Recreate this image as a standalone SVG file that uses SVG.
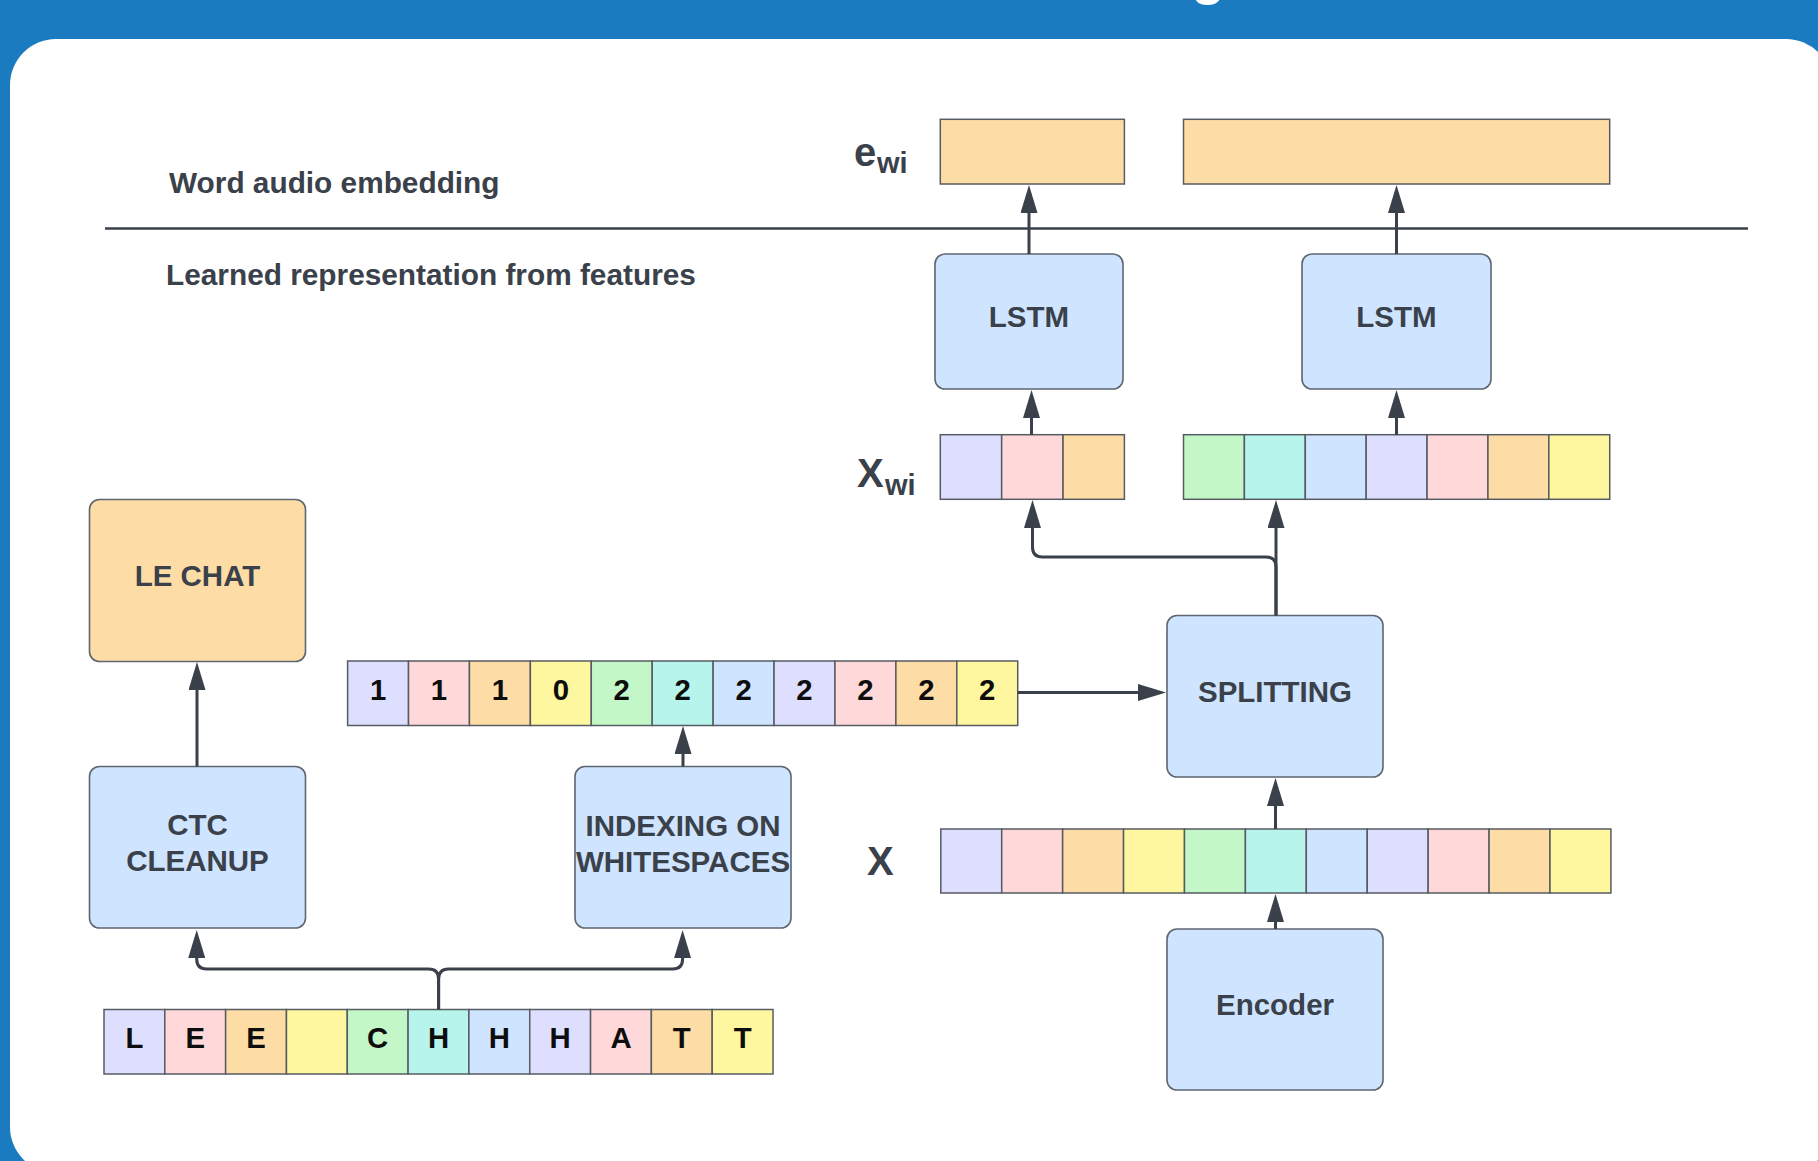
<svg xmlns="http://www.w3.org/2000/svg" width="1818" height="1161" viewBox="0 0 1818 1161">
<style>
text{font-family:"Liberation Sans",Arial,sans-serif;font-weight:bold}
.lbl{fill:#3a414a;font-size:29.8px}
.nt{fill:#3a414a;font-size:29.5px;text-anchor:middle}
.ct{fill:#0d0d0d;font-size:29.33px;text-anchor:middle}
.box{stroke:#5e6670;stroke-width:1.6}
.cell{stroke:#575c63;stroke-width:1.5}
.lav{fill:#dedeff}.pnk{fill:#ffd8da}.org{fill:#fedca6}.yel{fill:#fff6a0}
.grn{fill:#c3f7c8}.cyn{fill:#b7f4eb}.blu{fill:#cfe4ff}
.conn path{fill:none;stroke:#3a414a;stroke-width:3;marker-end:url(#ah)}
</style>
<defs>
<marker id="ah" markerUnits="userSpaceOnUse" viewBox="0 0 28 17" markerWidth="28" markerHeight="17" refX="18" refY="8.5" orient="auto">
<path d="M0,0 L28,8.5 L0,17 z" fill="#3a414a"/>
</marker>
</defs>
<rect x="0" y="0" width="1818" height="1161" fill="#1b7bc0"/>
<text x="1208" y="-7" font-size="56" fill="#ffffff" text-anchor="middle">g</text>
<rect x="10" y="39" width="1822" height="1134" rx="46" fill="#ffffff"/>

<g id="section-labels">
<text class="lbl" x="169" y="193">Word audio embedding</text>
<line x1="105" y1="228.5" x2="1748" y2="228.5" stroke="#3a414a" stroke-width="2.5"/>
<text class="lbl" x="166" y="285">Learned representation from features</text>
</g>

<g id="label-ewi">
<text x="854" y="166" fill="#3a414a" font-size="40">e</text>
<text x="877" y="173" fill="#3a414a" font-size="29">wi</text>
</g>
<g id="label-xwi">
<text x="857" y="487" fill="#3a414a" font-size="40">X</text>
<text x="885" y="495" fill="#3a414a" font-size="29">wi</text>
</g>
<g id="label-x">
<text x="867" y="875" fill="#3a414a" font-size="40">X</text>
</g>

<g id="embedding-1"><rect class="cell org" x="940.3" y="119.3" width="184.1" height="64.7"/></g>
<g id="embedding-2"><rect class="cell org" x="1183.5" y="119.3" width="426.2" height="64.7"/></g>

<g id="lstm-1"><rect class="box blu" x="935" y="254" width="188" height="135" rx="10"/><text class="nt" x="1029" y="327">LSTM</text></g>
<g id="lstm-2"><rect class="box blu" x="1302" y="254" width="189" height="135" rx="10"/><text class="nt" x="1396.5" y="327">LSTM</text></g>

<g id="xwi-1">
<rect class="cell lav" x="940.3" y="434.7" width="61.37" height="64.6"/>
<rect class="cell pnk" x="1001.67" y="434.7" width="61.37" height="64.6"/>
<rect class="cell org" x="1063.04" y="434.7" width="61.37" height="64.6"/>
</g>
<g id="xwi-2">
<rect class="cell grn" x="1183.5" y="434.7" width="60.89" height="64.6"/>
<rect class="cell cyn" x="1244.39" y="434.7" width="60.89" height="64.6"/>
<rect class="cell blu" x="1305.28" y="434.7" width="60.89" height="64.6"/>
<rect class="cell lav" x="1366.17" y="434.7" width="60.89" height="64.6"/>
<rect class="cell pnk" x="1427.06" y="434.7" width="60.89" height="64.6"/>
<rect class="cell org" x="1487.95" y="434.7" width="60.89" height="64.6"/>
<rect class="cell yel" x="1548.84" y="434.7" width="60.89" height="64.6"/>
</g>

<g id="le-chat"><rect class="box org" x="89.5" y="499.5" width="216" height="162" rx="10"/><text class="nt" x="197.5" y="586">LE CHAT</text></g>

<g id="splitting"><rect class="box blu" x="1167" y="615.5" width="216" height="161.5" rx="10"/><text class="nt" x="1275" y="702">SPLITTING</text></g>

<g id="index-row">
<rect class="cell lav" x="347.6" y="661" width="60.92" height="64.5"/>
<rect class="cell pnk" x="408.52" y="661" width="60.92" height="64.5"/>
<rect class="cell org" x="469.44" y="661" width="60.92" height="64.5"/>
<rect class="cell yel" x="530.36" y="661" width="60.92" height="64.5"/>
<rect class="cell grn" x="591.28" y="661" width="60.92" height="64.5"/>
<rect class="cell cyn" x="652.2" y="661" width="60.92" height="64.5"/>
<rect class="cell blu" x="713.12" y="661" width="60.92" height="64.5"/>
<rect class="cell lav" x="774.04" y="661" width="60.92" height="64.5"/>
<rect class="cell pnk" x="834.96" y="661" width="60.92" height="64.5"/>
<rect class="cell org" x="895.88" y="661" width="60.92" height="64.5"/>
<rect class="cell yel" x="956.8" y="661" width="60.92" height="64.5"/>
<text class="ct" x="378.06" y="700">1</text>
<text class="ct" x="438.98" y="700">1</text>
<text class="ct" x="499.9" y="700">1</text>
<text class="ct" x="560.82" y="700">0</text>
<text class="ct" x="621.74" y="700">2</text>
<text class="ct" x="682.66" y="700">2</text>
<text class="ct" x="743.58" y="700">2</text>
<text class="ct" x="804.5" y="700">2</text>
<text class="ct" x="865.42" y="700">2</text>
<text class="ct" x="926.34" y="700">2</text>
<text class="ct" x="987.26" y="700">2</text>
</g>

<g id="ctc-cleanup"><rect class="box blu" x="89.5" y="766.5" width="216" height="161.5" rx="10"/><text class="nt" x="197.5" y="835">CTC</text><text class="nt" x="197.5" y="871">CLEANUP</text></g>
<g id="indexing"><rect class="box blu" x="575" y="766.5" width="216" height="161.5" rx="10"/><text class="nt" x="683" y="836">INDEXING ON</text><text class="nt" x="683" y="872">WHITESPACES</text></g>

<g id="x-row">
<rect class="cell lav" x="940.8" y="829" width="60.92" height="64"/>
<rect class="cell pnk" x="1001.72" y="829" width="60.92" height="64"/>
<rect class="cell org" x="1062.64" y="829" width="60.92" height="64"/>
<rect class="cell yel" x="1123.56" y="829" width="60.92" height="64"/>
<rect class="cell grn" x="1184.48" y="829" width="60.92" height="64"/>
<rect class="cell cyn" x="1245.4" y="829" width="60.92" height="64"/>
<rect class="cell blu" x="1306.32" y="829" width="60.92" height="64"/>
<rect class="cell lav" x="1367.24" y="829" width="60.92" height="64"/>
<rect class="cell pnk" x="1428.16" y="829" width="60.92" height="64"/>
<rect class="cell org" x="1489.08" y="829" width="60.92" height="64"/>
<rect class="cell yel" x="1550" y="829" width="60.92" height="64"/>
</g>

<g id="encoder"><rect class="box blu" x="1167" y="929" width="216" height="161" rx="10"/><text class="nt" x="1275" y="1015">Encoder</text></g>

<g id="letter-row">
<rect class="cell lav" x="104" y="1009.5" width="60.82" height="64.5"/>
<rect class="cell pnk" x="164.82" y="1009.5" width="60.82" height="64.5"/>
<rect class="cell org" x="225.64" y="1009.5" width="60.82" height="64.5"/>
<rect class="cell yel" x="286.46" y="1009.5" width="60.82" height="64.5"/>
<rect class="cell grn" x="347.28" y="1009.5" width="60.82" height="64.5"/>
<rect class="cell cyn" x="408.1" y="1009.5" width="60.82" height="64.5"/>
<rect class="cell blu" x="468.92" y="1009.5" width="60.82" height="64.5"/>
<rect class="cell lav" x="529.74" y="1009.5" width="60.82" height="64.5"/>
<rect class="cell pnk" x="590.56" y="1009.5" width="60.82" height="64.5"/>
<rect class="cell org" x="651.38" y="1009.5" width="60.82" height="64.5"/>
<rect class="cell yel" x="712.2" y="1009.5" width="60.82" height="64.5"/>
<text class="ct" x="134.41" y="1048">L</text>
<text class="ct" x="195.23" y="1048">E</text>
<text class="ct" x="256.05" y="1048">E</text>
<text class="ct" x="377.69" y="1048">C</text>
<text class="ct" x="438.51" y="1048">H</text>
<text class="ct" x="499.33" y="1048">H</text>
<text class="ct" x="560.15" y="1048">H</text>
<text class="ct" x="620.97" y="1048">A</text>
<text class="ct" x="681.79" y="1048">T</text>
<text class="ct" x="742.61" y="1048">T</text>
</g>

<g id="connectors" class="conn">
<path d="M1029 254 V195"/>
<path d="M1396.5 254 V195"/>
<path d="M1031.5 435 V400"/>
<path d="M1396.5 435 V400"/>
<path d="M1276 615.5 V567 Q1276 557 1266 557 H1042.5 Q1032.5 557 1032.5 547 V510"/>
<path d="M1276 615.5 V510"/>
<path d="M1017.7 692.5 H1156"/>
<path d="M1275.5 829 V788"/>
<path d="M1275.5 929 V904"/>
<path d="M197 766.5 V672"/>
<path d="M683 766.5 V736"/>
<path d="M438.6 1009.5 V979 Q438.6 969 428.6 969 H206.7 Q196.7 969 196.7 959 V940"/>
<path d="M438.6 1009.5 V979 Q438.6 969 448.6 969 H672.6 Q682.6 969 682.6 959 V940"/>
</g>
</svg>
